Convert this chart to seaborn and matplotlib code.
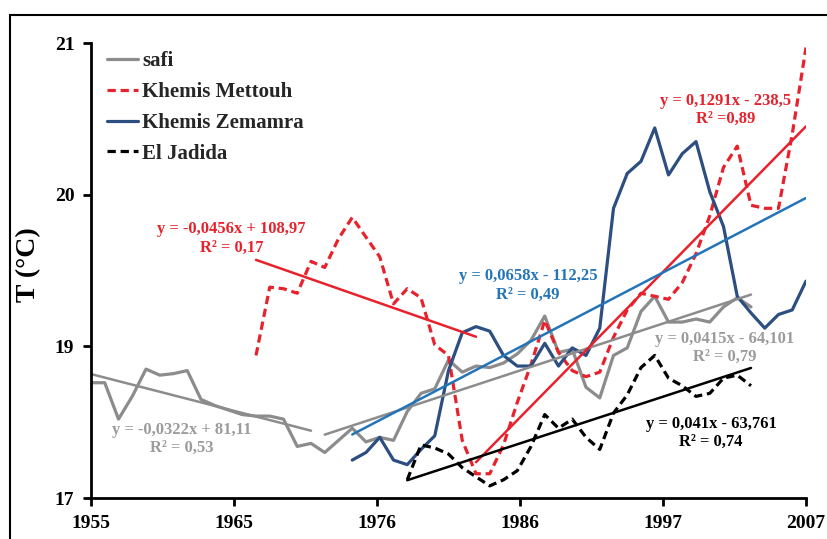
import numpy as np
import matplotlib
matplotlib.use('Agg')
import matplotlib.pyplot as plt
from matplotlib.patches import Rectangle
import seaborn as sns

# annual mean temperature (axis units, bottom gridline = 18)
safi_years = list(range(1955, 2004))
safi_temp = [18.76, 18.76, 18.52, 18.67, 18.85, 18.81, 18.82, 18.84, 18.65, 18.61,
             18.58, 18.55, 18.54, 18.54, 18.52, 18.34, 18.36, 18.30, 18.38, 18.46,
             18.37, 18.40, 18.38, 18.57, 18.69, 18.72, 18.91, 18.83, 18.87, 18.86,
             18.89, 18.95, 19.04, 19.20, 18.96, 18.98, 18.73, 18.66, 18.94, 18.99,
             19.23, 19.33, 19.16, 19.16, 19.18, 19.16, 19.26, 19.32, 19.26]

mettouh_years = list(range(1967, 2008))
mettouh_temp = [18.94, 19.39, 19.38, 19.35, 19.56, 19.52, 19.71, 19.85, 19.72, 19.59,
                19.28, 19.38, 19.32, 19.01, 18.94, 18.38, 18.16, 18.16, 18.35, 18.63,
                18.88, 19.17, 18.96, 18.84, 18.80, 18.83, 19.06, 19.24, 19.35, 19.33,
                19.31, 19.42, 19.61, 19.86, 20.18, 20.32, 19.93, 19.91, 19.91, 20.40,
                20.97]

zemamra_years = list(range(1974, 2008))
zemamra_temp = [18.25, 18.30, 18.40, 18.25, 18.22, 18.32, 18.41, 18.84, 19.09, 19.13,
                19.10, 18.94, 18.87, 18.87, 19.02, 18.87, 18.99, 18.94, 19.12, 19.91,
                20.14, 20.22, 20.44, 20.13, 20.27, 20.35, 20.02, 19.79, 19.33, 19.22,
                19.12, 19.21, 19.24, 19.43]

jadida_years = list(range(1978, 2004))
jadida_temp = [18.12, 18.35, 18.33, 18.29, 18.20, 18.14, 18.08, 18.12, 18.18, 18.34,
               18.55, 18.46, 18.52, 18.40, 18.32, 18.56, 18.68, 18.86, 18.94, 18.79,
               18.74, 18.67, 18.69, 18.79, 18.81, 18.74]

x_tick_labels = ['1955', '1965', '1976', '1986', '1997', '2007']
y_tick_pos = [18, 19, 20, 21]
y_tick_labels = ['17', '19', '20', '21']

GRAY = '#8C8C8C'
GRAY_TXT = '#9B9B9B'
RED = '#E8222C'
NAVY = '#2C4E80'
BLUE = '#2474B8'

sns.set_theme(style='white')
plt.rcParams['font.family'] = ['Liberation Serif', 'DejaVu Serif']
plt.rcParams['font.weight'] = 'bold'

fig = plt.figure(figsize=(8.28, 5.39), dpi=100)
ax = fig.add_axes([91 / 828, 1 - 498 / 539, (806 - 91) / 828, (498 - 43) / 539])

series = [
    ('safi', safi_years, safi_temp, GRAY, False),
    ('Khemis Mettouh', mettouh_years, mettouh_temp, RED, True),
    ('Khemis Zemamra', zemamra_years, zemamra_temp, NAVY, False),
    ('El Jadida', jadida_years, jadida_temp, 'black', True),
]
handles = []
for name, yrs, vals, color, dashed in series:
    sns.lineplot(x=yrs, y=vals, ax=ax, color=color, lw=2.3)
    line = ax.lines[-1]
    if dashed:
        line.set_dashes([2.6, 1.5])
    line.set_label(name)
    handles.append(line)

# linear trends: (years, values, fit from, fit to, drawn to, color)
trends = [
    (safi_years, safi_temp, 1955, 1971, 1971, GRAY),
    (safi_years, safi_temp, 1972, 2003, 2003, GRAY),
    (mettouh_years, mettouh_temp, 1967, 1982, 1983, RED),
    (mettouh_years, mettouh_temp, 1983, 2007, 2007, RED),
    (zemamra_years, zemamra_temp, 1974, 2007, 2007, BLUE),
    (jadida_years, jadida_temp, 1978, 2003, 2003, 'black'),
]
for yrs, vals, lo, hi, end, color in trends:
    yrs = np.array(yrs)
    vals = np.array(vals)
    m = (yrs >= lo) & (yrs <= hi)
    k, b = np.polyfit(yrs[m], vals[m], 1)
    xs = np.array([lo, end])
    sns.lineplot(x=xs, y=k * xs + b, ax=ax, color=color, lw=1.8)

equations = [
    ('y = -0,0456x + 108,97\nR² = 0,17', 1965.2, 19.71, RED),
    ('y = 0,0658x - 112,25\nR² = 0,49', 1986.8, 19.40, BLUE),
    ('y = 0,1291x - 238,5\nR² =0,89', 2001.15, 20.56, RED),
    ('y = 0,0415x - 64,101\nR² = 0,79', 2001.1, 18.99, GRAY_TXT),
    ('y = 0,041x - 63,761\nR² = 0,74', 2000.1, 18.43, 'black'),
    ('y = -0,0322x + 81,11\nR² = 0,53', 1961.6, 18.39, GRAY_TXT),
]
for txt, x, y, color in equations:
    ax.text(x, y, txt, color=color, fontsize=11.9, fontweight='bold',
            ha='center', va='center', multialignment='center', linespacing=1.2)

ax.set_xlim(1955, 2007)
ax.set_ylim(18, 21)
ax.set_xticks(np.linspace(1955, 2007, 6))
ax.set_xticklabels(x_tick_labels)
ax.set_yticks(y_tick_pos)
ax.set_yticklabels(y_tick_labels)
ax.tick_params(bottom=True, left=True, direction='out', length=6, width=2,
               color='black', labelcolor='black', labelsize=14, pad=6)
for side in ['top', 'right']:
    ax.spines[side].set_visible(False)
for side in ['left', 'bottom']:
    ax.spines[side].set_color('black')
    ax.spines[side].set_linewidth(2)

fig.text(29 / 828, 1 - 265 / 539, 'T (°C)', rotation=90, ha='center', va='center',
         fontsize=20, fontweight='bold', color='black')

ax.legend(handles=handles, loc='upper left', bbox_to_anchor=(0.022, 0.982),
          frameon=False, fontsize=15, handlelength=1.5, handletextpad=0.2,
          labelspacing=0.52, borderaxespad=0, borderpad=0)

fig.patches.append(Rectangle((10 / 828, -0.1), 1.2, 1 - 15 / 539 + 0.1,
                             transform=fig.transFigure, fill=False, lw=1.5,
                             ec='black'))

fig.savefig('out.png', dpi=100)
